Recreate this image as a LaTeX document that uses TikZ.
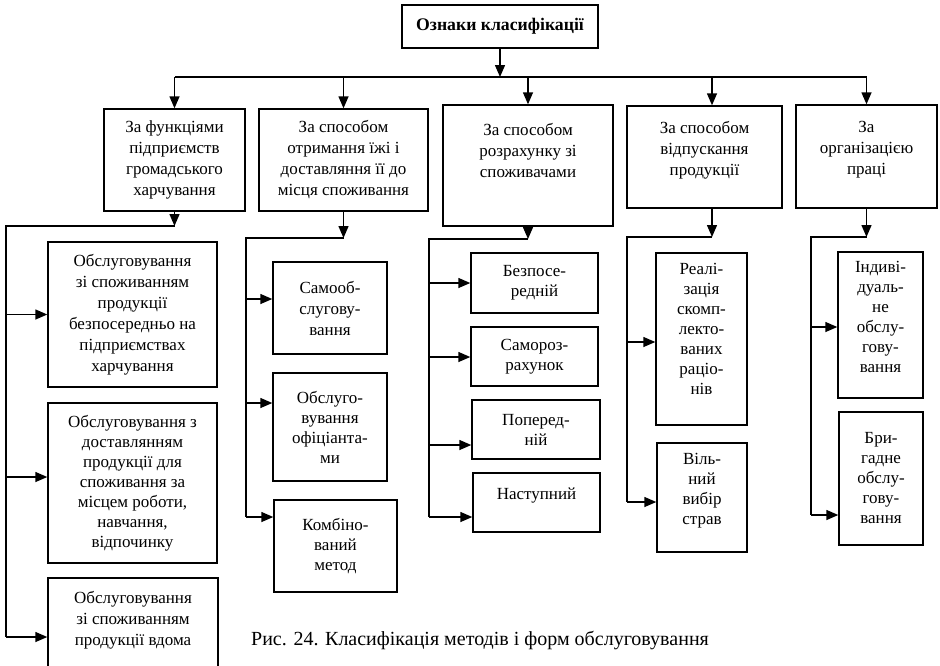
\documentclass[tikz,border=0pt]{standalone}
\usepackage{fontspec}
\setmainfont{Liberation Serif}
\usetikzlibrary{arrows.meta}
\newcommand{\mybox}[7][]{\node[box,#1,minimum width={#5-#3},minimum height={#6-#4}] (#2) at ({(#3+#5)/2},{(#4+#6)/2}) {#7};}
\begin{document}
\begin{tikzpicture}[x=1pt,y=-1pt,
  box/.style={draw,line width=1.4pt,inner sep=0pt,align=center,font=\fontsize{17}{21}\selectfont},
  tight/.style={font=\fontsize{17}{20}\selectfont},
  arr/.style={line width=1.4pt,-{Triangle[length=12pt,width=10pt]}},
  ln/.style={line width=1.4pt}]
\useasboundingbox (0,0) rectangle (940,665);
% top
\mybox[font=\bfseries\fontsize{17.7}{21}\selectfont]{top}{402}{5}{598}{48}{Ознаки класифікації}
% headers
\mybox{h1}{104}{109}{245}{211}{За функціями\\підприємств\\громадського\\харчування}
\mybox{h2}{259}{109}{428}{211}{За способом\\отримання їжі і\\доставляння її до\\місця споживання}
\mybox{h3}{443}{105}{613}{226}{За способом\\розрахунку зі\\споживачами\\[10pt]\mbox{}}
\mybox{h4}{627}{106}{782}{208}{За способом\\відпускання\\продукції\\[-4pt]\mbox{}}
\mybox{h5}{796}{105}{937}{208}{За\\організацією\\праці\\[-4pt]\mbox{}}
% column 1
\mybox{a1}{48}{242}{217}{387}{Обслуговування\\зі споживанням\\продукції\\безпосередньо на\\підприємствах\\харчування}
\mybox[tight]{a2}{48}{403}{217}{563}{Обслуговування з\\доставлянням\\продукції для\\споживання за\\місцем роботи,\\навчання,\\відпочинку}
\mybox{a3}{48}{578}{218}{672}{Обслуговування\\зі споживанням\\продукції вдома\\[-7pt]\mbox{}}
% column 2
\mybox{b1}{273}{262}{387}{354}{Самооб-\\слугову-\\вання}
\mybox[tight]{b2}{273}{373}{387}{481}{Обслуго-\\вування\\офіціанта-\\ми}
\mybox[tight]{b3}{274}{500}{397}{592}{Комбіно-\\ваний\\метод}
% column 3
\mybox[tight]{c1}{471}{253}{598}{313}{Безпосе-\\редній}
\mybox[tight]{c2}{471}{327}{598}{386}{Самороз-\\рахунок}
\mybox[tight]{c3}{472}{400}{600}{459}{Поперед-\\ній}
\mybox[tight]{c4}{473}{473}{600}{532}{Наступний\\[-2pt]\mbox{}}
% column 4
\mybox[tight]{d1}{656}{253}{747}{425}{Реалі-\\зація\\скомп-\\лекто-\\ваних\\раціо-\\нів\\\mbox{}}
\mybox[tight]{d2}{657}{443}{747}{552}{Віль-\\ний\\вибір\\страв\\[-3pt]\mbox{}}
% column 5
\mybox[tight]{e1}{838}{252}{923}{398}{Індиві-\\дуаль-\\не\\обслу-\\гову-\\вання\\[-4pt]\mbox{}}
\mybox[tight]{e2}{839}{412}{923}{545}{Бри-\\гадне\\обслу-\\гову-\\вання}
% caption
\node[font=\fontsize{20}{24}\selectfont] (cap) at (480,640) {Рис. 24. Класифікація методів і форм обслуговування};
% bus
\coordinate (busL) at (175,77);
\coordinate (busR) at (867,77);
\coordinate (h4in) at (712,77);
\draw[arr] (top.south) -- (top.south |- busL);
\draw[ln] (busL) -- (busR);
\draw[arr] (h1.north |- busL) -- (h1.north);
\draw[arr] (h2.north |- busL) -- (h2.north);
\draw[arr] (h3.north |- busL) -- (h3.north);
\draw[arr] (h4in) -- (h4in |- h4.north);
\draw[arr] (h5.north |- busL) -- (h5.north);
% column 1 connectors
\coordinate (t1a) at (6,226);
\coordinate (t1b) at (6,637);
\coordinate (k1b) at (6,477);
\draw[arr] (h1.south) -- (h1.south |- t1a);
\draw[ln] (h1.south |- t1a) -- (t1a) -- (t1b);
\draw[arr] (t1a |- a1.west) -- (a1.west);
\draw[arr] (k1b) -- (k1b -| a2.west);
\draw[arr] (t1b) -- (t1b -| a3.west);
% column 2 connectors
\coordinate (t2a) at (246,238);
\coordinate (t2b) at (246,517);
\coordinate (k2a) at (246,299);
\coordinate (k2b) at (246,403);
\draw[arr] (h2.south) -- (h2.south |- t2a);
\draw[ln] (h2.south |- t2a) -- (t2a) -- (t2b);
\draw[arr] (k2a) -- (k2a -| b1.west);
\draw[arr] (k2b) -- (k2b -| b2.west);
\draw[arr] (t2b) -- (t2b -| b3.west);
% column 3 connectors
\coordinate (t3a) at (429,239);
\coordinate (t3b) at (429,517);
\coordinate (k3b) at (429,357);
\coordinate (k3c) at (429,445);
\draw[arr] (h3.south) -- (h3.south |- t3a);
\draw[ln] (h3.south |- t3a) -- (t3a) -- (t3b);
\draw[arr] (t3a |- c1.west) -- (c1.west);
\draw[arr] (k3b) -- (k3b -| c2.west);
\draw[arr] (k3c) -- (k3c -| c3.west);
\draw[arr] (t3b) -- (t3b -| c4.west);
% column 4 connectors
\coordinate (h4out) at (712,237);
\coordinate (t4a) at (627,237);
\coordinate (t4b) at (627,502);
\coordinate (k4a) at (627,342);
\draw[arr] (h4out |- h4.south) -- (h4out);
\draw[ln] (h4out) -- (t4a) -- (t4b);
\draw[arr] (k4a) -- (k4a -| d1.west);
\draw[arr] (t4b) -- (t4b -| d2.west);
% column 5 connectors
\coordinate (t5a) at (811,237);
\coordinate (t5b) at (811,515);
\coordinate (k5a) at (811,327);
\draw[arr] (h5.south) -- (h5.south |- t5a);
\draw[ln] (h5.south |- t5a) -- (t5a) -- (t5b);
\draw[arr] (k5a) -- (k5a -| e1.west);
\draw[arr] (t5b) -- (t5b -| e2.west);
\end{tikzpicture}
\end{document}
